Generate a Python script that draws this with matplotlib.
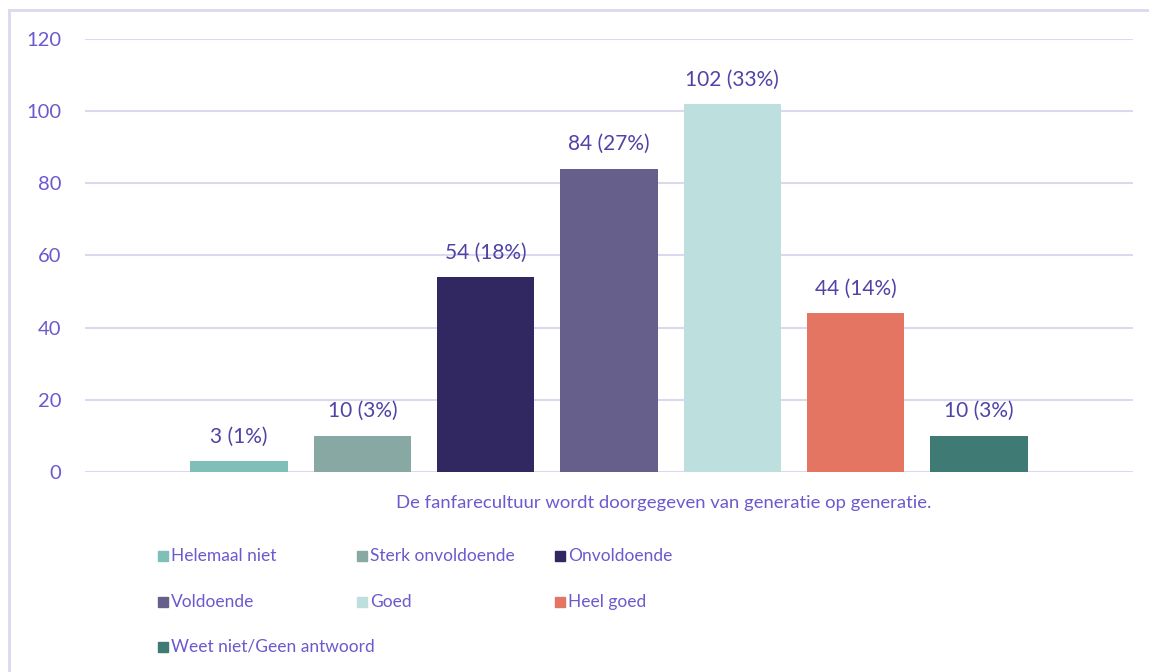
import matplotlib.pyplot as plt
from matplotlib.patches import Rectangle

# Data
categories = ['Helemaal niet', 'Sterk onvoldoende', 'Onvoldoende', 'Voldoende',
              'Goed', 'Heel goed', 'Weet niet/Geen antwoord']
counts = [3, 10, 54, 84, 102, 44, 10]
percents = [1, 3, 18, 27, 33, 14, 3]
colors = ['#7fbfb8', '#88a8a4', '#312862', '#675f8b', '#bde0de', '#e57563', '#3f7a75']
xlabel = 'De fanfarecultuur wordt doorgegeven van generatie op generatie.'
yticks = [0, 20, 40, 60, 80, 100, 120]

tick_color = '#6a5acd'
label_color = '#4f44a6'
grid_color = '#dcd8f0'

plt.rcParams['font.family'] = ['Lato', 'DejaVu Sans']

fig = plt.figure(figsize=(11.49, 6.72), dpi=100)
W, H = 1149, 672

# outer frame (only top and left visible in the crop)
fig.add_artist(plt.Line2D([9 / W, 9 / W], [0, 1 - 9.5 / H], color=grid_color, lw=2))
fig.add_artist(plt.Line2D([9 / W, 1], [1 - 9.5 / H, 1 - 9.5 / H], color=grid_color, lw=2))

ax = fig.add_axes([85 / W, 1 - 472 / H, (1133 - 85) / W, (472 - 39) / H])
x = list(range(len(categories)))
bars = ax.bar(x, counts, width=0.79, color=colors, zorder=3)

for xi, c, p in zip(x, counts, percents):
    ax.annotate(f'{c} ({p}%)', (xi, c), xytext=(0, 10.5), textcoords='offset points',
                ha='center', va='bottom', fontsize=15, color=label_color)

ax.set_xlim(-1.25, 7.25)
ax.set_ylim(0, 120)
ax.set_yticks(yticks)
ax.set_xticks([])
ax.yaxis.grid(True, color=grid_color, lw=1.5, zorder=0)
ax.tick_params(axis='y', length=0, pad=17, labelsize=14.5, labelcolor=tick_color)
for s in ax.spines.values():
    s.set_visible(False)

fig.text(664 / W, 1 - 503 / H, xlabel, ha='center', va='center',
         fontsize=13.3, color=tick_color)

# legend laid out like the original (3 columns, rows overlap freely)
col_x = [158, 357, 555]
row_y = [556, 602, 647]
for i, (name, col) in enumerate(zip(categories, colors)):
    px = col_x[i % 3]
    py = row_y[i // 3]
    fig.add_artist(Rectangle((px / W, (H - py - 5) / H), 10 / W, 10 / H,
                             color=col, transform=fig.transFigure))
    fig.text((px + 13) / W, 1 - py / H, name, ha='left', va='center',
             fontsize=12.5, color=tick_color)

fig.savefig('out.png', dpi=100)
